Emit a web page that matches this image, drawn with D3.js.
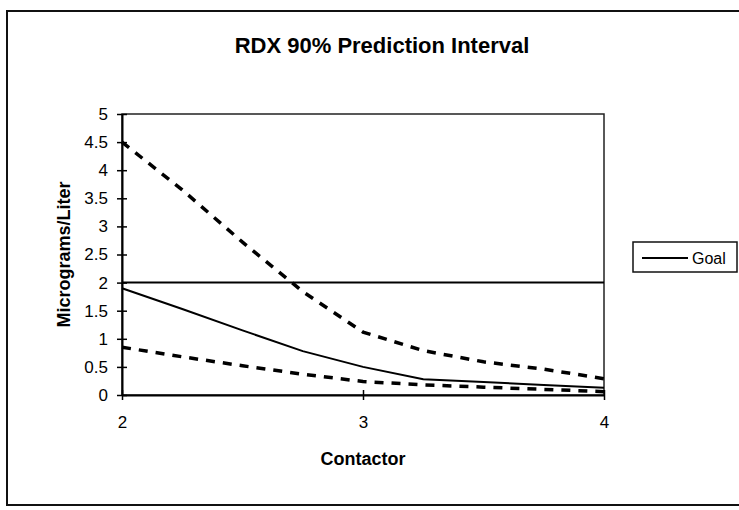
<!DOCTYPE html>
<html>
<head>
<meta charset="utf-8">
<script src="https://cdnjs.cloudflare.com/ajax/libs/d3/7.8.5/d3.min.js"></script>
<style>
	body { margin: 0; background: #fff; }
	svg { display: block; font-family: Arial, "Liberation Sans", sans-serif; }
</style>
</head>
<body>
<div id="graphic"></div>
<script>
// values
var contactor = [2, 2.25, 2.5, 2.75, 3, 3.25, 3.5, 3.75, 4];
var upperLimit = [4.5, 3.65, 2.72, 1.84, 1.12, 0.79, 0.59, 0.46, 0.29];
var predicted = [1.9, 1.53, 1.15, 0.78, 0.5, 0.28, 0.23, 0.18, 0.13];
var lowerLimit = [0.85, 0.68, 0.52, 0.37, 0.24, 0.18, 0.14, 0.1, 0.06];
var goal = [2, 2, 2, 2, 2, 2, 2, 2, 2];
var xTicks = [2, 3, 4];
var yTicks = [0, 0.5, 1, 1.5, 2, 2.5, 3, 3.5, 4, 4.5, 5];

var width = 739,
	height = 510;
var plot = { left: 122, right: 604, top: 114, bottom: 395 };

var svg = d3
	.select("#graphic")
	.append("svg")
	.attr("width", width)
	.attr("height", height);

// outer frame (right edge runs off the page)
svg
	.append("rect")
	.attr("x", 7)
	.attr("y", 11)
	.attr("width", 745)
	.attr("height", 494)
	.attr("fill", "#fff")
	.attr("stroke", "#111")
	.attr("stroke-width", 2);

var x = d3.scaleLinear().domain([2, 4]).range([plot.left, plot.right]);
var y = d3.scaleLinear().domain([0, 5]).range([plot.bottom, plot.top]);

// plot area border
svg
	.append("rect")
	.attr("x", plot.left)
	.attr("y", plot.top)
	.attr("width", plot.right - plot.left)
	.attr("height", plot.bottom - plot.top)
	.attr("fill", "none")
	.attr("stroke", "#222")
	.attr("stroke-width", 1.5);

var line = d3
	.line()
	.x(function(d) {
		return x(d[0]);
	})
	.y(function(d) {
		return y(d[1]);
	});

function pairs(vals) {
	return contactor.map(function(c, i) {
		return [c, vals[i]];
	});
}

var series = [
	{ vals: goal, dash: null, w: 2 },
	{ vals: predicted, dash: null, w: 2 },
	{ vals: upperLimit, dash: "9,8", w: 3.5 },
	{ vals: lowerLimit, dash: "9,8", w: 3.5 }
];

svg
	.selectAll(".series")
	.data(series)
	.enter()
	.append("path")
	.attr("class", "series")
	.attr("d", function(d) {
		return line(pairs(d.vals));
	})
	.attr("fill", "none")
	.attr("stroke", "#000")
	.attr("stroke-width", function(d) {
		return d.w;
	})
	.attr("stroke-dasharray", function(d) {
		return d.dash;
	});

// axes with cross ticks
var yAxis = d3
	.axisLeft(y)
	.tickValues(yTicks)
	.tickFormat(d3.format("~g"))
	.tickSizeInner(5)
	.tickSizeOuter(0)
	.tickPadding(9);

var gy = svg
	.append("g")
	.attr("class", "y axis")
	.attr("transform", "translate(" + plot.left + ",0)")
	.call(yAxis);

var xAxis = d3
	.axisBottom(x)
	.tickValues(xTicks)
	.tickFormat(d3.format("d"))
	.tickSizeInner(5)
	.tickSizeOuter(0)
	.tickPadding(16);

var gx = svg
	.append("g")
	.attr("class", "x axis")
	.attr("transform", "translate(0," + plot.bottom + ")")
	.call(xAxis);

svg.selectAll(".axis path").attr("stroke", "#000").attr("stroke-width", 2);
gy.selectAll(".tick line").attr("x1", -5).attr("x2", 5).attr("stroke", "#000").attr("stroke-width", 1.5);
gx.selectAll(".tick line").attr("y1", -5).attr("y2", 5).attr("stroke", "#000").attr("stroke-width", 1.5);
svg
	.selectAll(".axis text")
	.attr("fill", "#000")
	.style("font-size", "17px")
	.style("font-family", "Arial, 'Liberation Sans', sans-serif");

// titles
svg
	.append("text")
	.attr("x", 382)
	.attr("y", 53)
	.attr("text-anchor", "middle")
	.style("font-size", "22px")
	.style("font-weight", "bold")
	.text("RDX 90% Prediction Interval");

svg
	.append("text")
	.attr("x", (plot.left + plot.right) / 2)
	.attr("y", 465)
	.attr("text-anchor", "middle")
	.style("font-size", "18px")
	.style("font-weight", "bold")
	.text("Contactor");

svg
	.append("text")
	.attr("transform", "translate(70," + (plot.top + plot.bottom) / 2 + ") rotate(-90)")
	.attr("text-anchor", "middle")
	.style("font-size", "18px")
	.style("font-weight", "bold")
	.text("Micrograms/Liter");

// legend
var legend = svg.append("g").attr("class", "legend");
legend
	.append("rect")
	.attr("x", 633)
	.attr("y", 242)
	.attr("width", 104)
	.attr("height", 30)
	.attr("fill", "#fff")
	.attr("stroke", "#111")
	.attr("stroke-width", 1.5);
legend
	.append("line")
	.attr("x1", 642)
	.attr("x2", 688)
	.attr("y1", 258)
	.attr("y2", 258)
	.attr("stroke", "#000")
	.attr("stroke-width", 2);
legend
	.append("text")
	.attr("x", 692)
	.attr("y", 264)
	.style("font-size", "16px")
	.text("Goal");
</script>
</body>
</html>
